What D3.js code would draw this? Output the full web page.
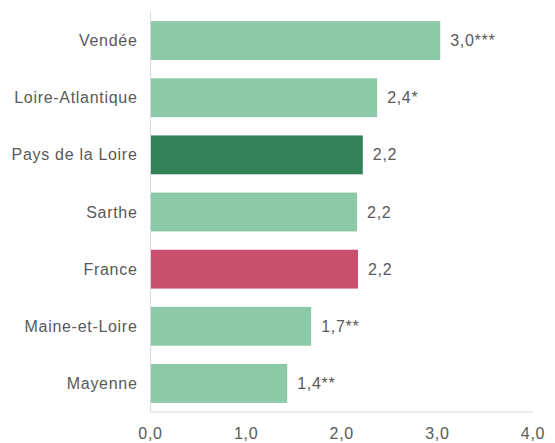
<!DOCTYPE html>
<html>
<head>
<meta charset="utf-8">
<script src="https://cdn.jsdelivr.net/npm/d3@7"></script>
<style>
  body { margin: 0; background: #fff; }
  text { font-family: "Liberation Sans", Arial, sans-serif; fill: #595959; font-size: 16px; letter-spacing: 0.7px; }
</style>
</head>
<body>
<div id="chart"></div>
<script>
var categories = ["Vendée", "Loire-Atlantique", "Pays de la Loire", "Sarthe", "France", "Maine-et-Loire", "Mayenne"];
var values = [3.03, 2.37, 2.22, 2.16, 2.17, 1.68, 1.43];
var valueLabels = ["3,0***", "2,4*", "2,2", "2,2", "2,2", "1,7**", "1,4**"];
var barColors = ["#8BC9A7", "#8BC9A7", "#348058", "#8BC9A7", "#C84F6E", "#8BC9A7", "#8BC9A7"];
var xTicks = [0, 1, 2, 3, 4];

var width = 555, height = 443;
var margin = {top: 12, right: 22, bottom: 31, left: 150.5};

var svg = d3.select("#chart")
	.append("svg")
	.attr("width", width)
	.attr("height", height);

var x = d3.scaleLinear()
	.domain([0, 4])
	.range([margin.left, width - margin.right]);

var y = d3.scaleBand()
	.domain(categories)
	.range([margin.top, height - margin.bottom])
	.paddingInner(0.32)
	.paddingOuter(0.16);

// bars
svg.selectAll(".bar")
	.data(values)
	.enter()
	.append("rect")
	.attr("class", "bar")
	.attr("x", x(0))
	.attr("y", function (d, i) { return y(categories[i]); })
	.attr("width", function (d) { return x(d) - x(0); })
	.attr("height", y.bandwidth())
	.style("fill", function (d, i) { return barColors[i]; });

// axis lines
svg.append("line")
	.attr("x1", x(0)).attr("x2", x(0))
	.attr("y1", margin.top).attr("y2", height - margin.bottom)
	.style("stroke", "#d9d9d9");
svg.append("line")
	.attr("x1", x(0)).attr("x2", x(4))
	.attr("y1", height - margin.bottom).attr("y2", height - margin.bottom)
	.style("stroke", "#d9d9d9");

// tick labels
svg.selectAll(".tick-label")
	.data(xTicks)
	.enter()
	.append("text")
	.attr("class", "tick-label")
	.attr("x", function (d) { return x(d); })
	.attr("y", height - margin.bottom + 21)
	.attr("dy", "0.35em")
	.attr("text-anchor", "middle")
	.text(function (d) { return d3.format(".1f")(d).replace(".", ","); });

// category labels
svg.selectAll(".cat-label")
	.data(categories)
	.enter()
	.append("text")
	.attr("class", "cat-label")
	.attr("x", x(0) - 13)
	.attr("y", function (d) { return y(d) + y.bandwidth() / 2; })
	.attr("dy", "0.35em")
	.attr("text-anchor", "end")
	.text(function (d) { return d; });

// value labels
svg.selectAll(".val-label")
	.data(values)
	.enter()
	.append("text")
	.attr("class", "val-label")
	.attr("x", function (d) { return x(d) + 10; })
	.attr("y", function (d, i) { return y(categories[i]) + y.bandwidth() / 2; })
	.attr("dy", "0.35em")
	.text(function (d, i) { return valueLabels[i]; });
</script>
</body>
</html>
